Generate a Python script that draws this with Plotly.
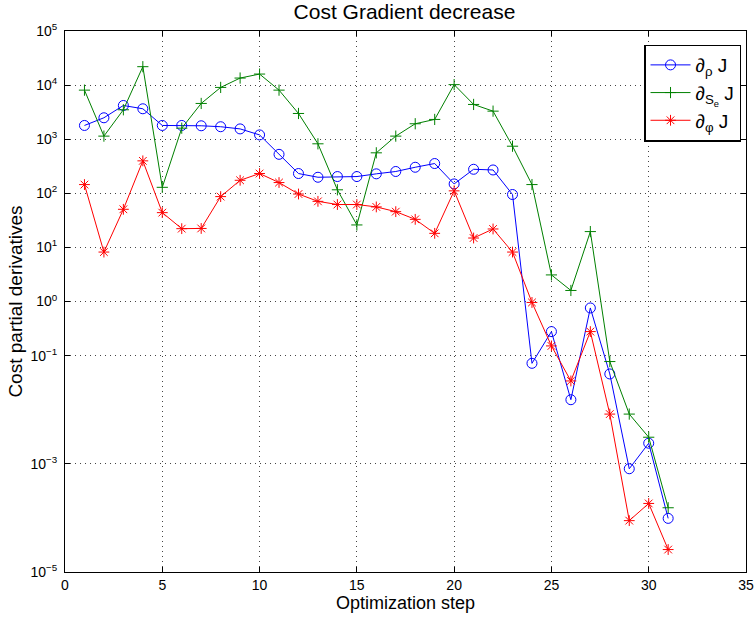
import plotly.graph_objects as go

steps = list(range(1, 32))

d_rho = [1795, 2490, 4200, 3650, 1795, 1795, 1770, 1700, 1550, 1200,
         525, 232, 198, 204, 204, 229, 253, 303, 355, 149,
         278, 270, 95, 0.072, 0.278, 0.0153, 0.76, 0.0458, 8.1e-4, 2.4e-3,
         9.8e-5]

d_se = [8070, 1140, 3500, 21900, 129, 1600, 4580, 9060, 13500, 16000,
        8070, 2990, 822, 116, 26, 560, 1140, 1930, 2320, 10200,
        4390, 3300, 742, 145, 3.1, 1.6, 19.6, 0.0776, 0.0083, 0.0031,
        1.54e-4]

d_phi = [145, 8.2, 50.6, 398, 43.9, 22.2, 22.4, 86.9, 174, 232,
         158, 97, 71, 62, 62, 56, 45.8, 33, 18.2, 111,
         14.9, 21.9, 8.2, 0.96, 0.151, 0.034, 0.278, 0.0083, 8.9e-5, 1.85e-4,
         2.6e-5]

y_tickvals = [1e-5, 1e-3, 1e-1, 1, 10, 100, 1e3, 1e4, 1e5]
y_ticktext = ["10<sup>−5</sup>", "10<sup>−3</sup>", "10<sup>−1</sup>", "10<sup>0</sup>",
              "10<sup>1</sup>", "10<sup>2</sup>", "10<sup>3</sup>", "10<sup>4</sup>",
              "10<sup>5</sup>"]

fig = go.Figure()

fig.add_scatter(x=steps, y=d_rho, mode="lines+markers", name="∂<sub>ρ</sub> J",
                line=dict(color="#0000ff", width=1),
                marker=dict(symbol="circle-open", size=10, color="#0000ff", line=dict(width=1)))
fig.add_scatter(x=steps, y=d_se, mode="lines+markers", name="∂<sub>S<sub>e</sub></sub> J",
                line=dict(color="#008000", width=1),
                marker=dict(symbol="cross-thin", size=8, color="#008000", line=dict(width=1, color="#008000")))
fig.add_scatter(x=steps, y=d_phi, mode="lines+markers", name="∂<sub>φ</sub> J",
                line=dict(color="#ff0000", width=1),
                marker=dict(symbol="asterisk-open", size=9, color="#ff0000", line=dict(width=1, color="#ff0000")))

axis_common = dict(
    showline=True, linecolor="black", linewidth=1, mirror="ticks",
    ticks="inside", ticklen=5, tickcolor="black",
    showgrid=True, gridcolor="#444444", griddash="1px,4px", gridwidth=1,
    zeroline=False, automargin=False,
    tickfont=dict(size=14, color="black"),
)

fig.update_xaxes(range=[0, 35], tickvals=[0, 5, 10, 15, 20, 25, 30, 35],
                 title=dict(text="Optimization step", font=dict(size=18, color="black"), standoff=2),
                 **axis_common)
fig.update_yaxes(type="log", range=[-5, 5], tickvals=y_tickvals, ticktext=y_ticktext,
                 ticklabelstandoff=4,
                 title=dict(text="Cost partial derivatives", font=dict(size=19, color="black"), standoff=2),
                 **axis_common)

fig.update_layout(
    width=756, height=622,
    margin=dict(l=65, r=10, t=31, b=50),
    plot_bgcolor="white", paper_bgcolor="white",
    font=dict(family="Liberation Sans, Arial, sans-serif", color="black"),
    title=dict(text="Cost Gradient decrease", x=0.535, xanchor="center",
               yref="container", y=1 - 11.5 / 622, yanchor="middle",
               font=dict(size=21, color="black")),
    legend=dict(x=0.9927, y=0.975, xanchor="right", yanchor="top",
                bordercolor="black", borderwidth=1.5, bgcolor="white",
                font=dict(size=19, color="black"), tracegroupgap=2, itemwidth=40),
    showlegend=True,
)

# the page body has a default 8px margin, drop it so the figure sits at the corner
fig.write_html("out.html", config={"displayModeBar": False},
               post_script="document.body.style.margin='0';")
